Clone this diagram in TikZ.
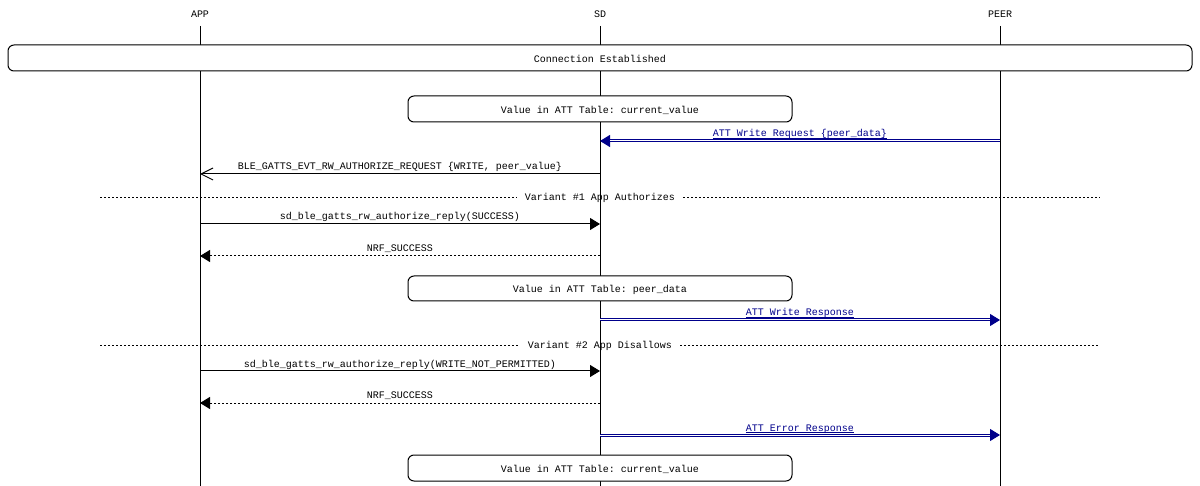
\documentclass[tikz,border=0pt]{standalone}
\usepackage{fontspec}
\setmonofont{Liberation Mono}
\usetikzlibrary{arrows.meta}
\definecolor{msgblue}{RGB}{0,0,139}
\begin{document}
\begin{tikzpicture}[x=1pt,y=-1pt,
  font=\ttfamily\fontsize{10}{12}\selectfont,
  every node/.style={inner sep=0pt},
  txt/.style={anchor=base},
  lifeline/.style={line width=1pt},
  ebox/.style={draw, fill=white, rounded corners=6pt, line width=1pt},
  divider/.style={line width=1pt, dash pattern=on 2pt off 2pt},
  call/.style={line width=1pt, -{Triangle[length=10pt,width=12pt]}},
  ret/.style={line width=1pt, dash pattern=on 2pt off 2pt, -{Triangle[length=10pt,width=12pt]}},
  sig/.style={line width=1pt, -{Straight Barb[length=12pt,width=12pt]}},
  airtip/.style={msgblue, line width=1pt, -{Triangle[length=10pt,width=12pt]}},
  airline/.style={msgblue, line width=1pt, double=white, double distance=1pt, shorten >=10pt},
  airlbl/.style={anchor=base, text=msgblue},
  uline/.style={msgblue, line width=0.8pt}
]
\useasboundingbox (0,0) rectangle (1200,486);

% heads
\node[txt] (app)  at (200,18) {APP};
\node[txt] (sd)   at (600,18) {SD};
\node[txt] (peer) at (1000,18) {PEER};
\coordinate (appt) at (200,26);  \coordinate (appb) at (200,486);
\coordinate (sdt) at (600,26);   \coordinate (sdb) at (600,486);
\coordinate (peert) at (1000,26); \coordinate (peerb) at (1000,486);
\draw[lifeline] (appt) -- (appb);
\draw[lifeline] (sdt) -- (sdb);
\draw[lifeline] (peert) -- (peerb);

% connection established
\draw[ebox] (8,45) rectangle (1192,71);
\node[txt] (ce) at (600,63) {Connection Established};

% value box 1
\draw[ebox] (408,96) rectangle (792,122);
\node[txt] (vb1) at (600,114) {Value in ATT Table: current\_value};

% ATT write request
\coordinate (wrq1) at (1000,141); \coordinate (wrq2) at (600,141);
\draw[airtip] (wrq1) -- (wrq2);
\draw[airline] (wrq1) -- (wrq2);
\node[airlbl] (lwrq) at (800,137) {ATT Write Request \{peer\_data\}};
\draw[uline] ([yshift=-1.8pt]lwrq.base west) -- ([yshift=-1.8pt]lwrq.base east);

% BLE event
\coordinate (ev1) at (600,174); \coordinate (ev2) at (200,174);
\draw[sig] (ev1) -- (ev2);
\node[txt] (lev) at (400,170) {BLE\_GATTS\_EVT\_RW\_AUTHORIZE\_REQUEST \{WRITE, peer\_value\}};

% divider 1
\coordinate (d1w) at (100,198); \coordinate (d1e) at (1100,198);
\node[inner xsep=8pt] (v1) at (600,198) {\raisebox{-3.5pt}{Variant \#1 App Authorizes}};
\draw[divider] (d1w) -- (v1.west);
\draw[divider] (v1.east) -- (d1e);

% reply success
\coordinate (r1a) at (200,224); \coordinate (r1b) at (600,224);
\draw[call] (r1a) -- (r1b);
\node[txt] (lr1) at (400,220) {sd\_ble\_gatts\_rw\_authorize\_reply(SUCCESS)};

% NRF_SUCCESS 1
\coordinate (n1a) at (600,256); \coordinate (n1b) at (200,256);
\draw[ret] (n1a) -- (n1b);
\node[txt] (ln1) at (400,252) {NRF\_SUCCESS};

% value box 2
\draw[ebox] (408,276) rectangle (792,301);
\node[txt] (vb2) at (600,293) {Value in ATT Table: peer\_data};

% ATT write response
\coordinate (wrs1) at (600,320); \coordinate (wrs2) at (1000,320);
\draw[airtip] (wrs1) -- (wrs2);
\draw[airline] (wrs1) -- (wrs2);
\node[airlbl] (lwrs) at (800,316) {ATT Write Response};
\draw[uline] ([yshift=-1.8pt]lwrs.base west) -- ([yshift=-1.8pt]lwrs.base east);

% divider 2
\coordinate (d2w) at (100,346); \coordinate (d2e) at (1100,346);
\node[inner xsep=8pt] (v2) at (600,346) {\raisebox{-3.5pt}{Variant \#2 App Disallows}};
\draw[divider] (d2w) -- (v2.west);
\draw[divider] (v2.east) -- (d2e);

% reply not permitted
\coordinate (r2a) at (200,371); \coordinate (r2b) at (600,371);
\draw[call] (r2a) -- (r2b);
\node[txt] (lr2) at (400,367) {sd\_ble\_gatts\_rw\_authorize\_reply(WRITE\_NOT\_PERMITTED)};

% NRF_SUCCESS 2
\coordinate (n2a) at (600,403); \coordinate (n2b) at (200,403);
\draw[ret] (n2a) -- (n2b);
\node[txt] (ln2) at (400,399) {NRF\_SUCCESS};

% ATT error response
\coordinate (er1) at (600,435); \coordinate (er2) at (1000,435);
\draw[airtip] (er1) -- (er2);
\draw[airline] (er1) -- (er2);
\node[airlbl] (ler) at (800,431) {ATT Error Response};
\draw[uline] ([yshift=-1.8pt]ler.base west) -- ([yshift=-1.8pt]ler.base east);

% value box 3
\draw[ebox] (408,455) rectangle (792,481);
\node[txt] (vb3) at (600,472) {Value in ATT Table: current\_value};
\end{tikzpicture}
\end{document}
